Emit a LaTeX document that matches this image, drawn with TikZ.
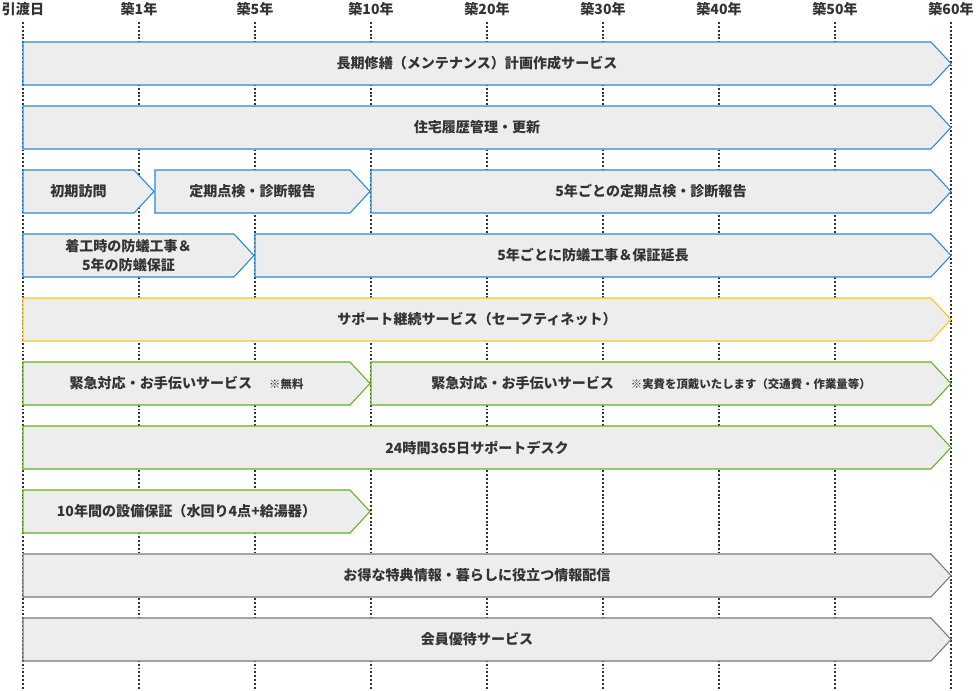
\documentclass[tikz,border=0pt]{standalone}
\usepackage{fontspec}
\setmainfont{Noto Sans CJK JP}
\usepackage{tikz}
\usetikzlibrary{calc}
\usepackage{xcolor}
\definecolor{barblue}{RGB}{36,138,214}
\definecolor{baryellow}{RGB}{250,198,30}
\definecolor{bargreen}{RGB}{98,178,22}
\definecolor{bargray}{RGB}{120,120,120}
\definecolor{barfill}{RGB}{237,237,237}
\definecolor{mytext}{RGB}{51,51,51}
% #1 name, #2 x start, #3 x tip, #4 y top, #5 colour, #6 text
\newcommand{\svcbar}[6]{%
  \draw[svcline,draw=#5] (#2,#4) -- (#3-20,#4) -- (#3,#4+21.5)
    -- (#3-20,#4+43) -- (#2,#4+43) -- cycle;
  \node[svctext] (#1) at ({(#2+#3-20)/2},#4+21.5) {#6};}
\newcommand{\svcnote}[1]{\hspace{1.2em}{\fontsize{6.5}{8}\selectfont #1}}

\begin{document}
\begin{tikzpicture}[x=0.02cm, y=-0.02cm,
    svcline/.style={fill=barfill, line width=0.6pt, line join=miter},
    svctext/.style={font=\fontsize{8}{11}\selectfont\bfseries, text=mytext,
      align=center, inner sep=0pt},
    yrline/.style={mytext, line width=0.6pt, dash pattern=on 1.1pt off 1.1pt},
    yrtext/.style={font=\fontsize{8}{10}\selectfont\bfseries, text=mytext, inner sep=0pt}]
  \useasboundingbox (0,0) rectangle (976,690);
  % time axis
  \foreach \k/\lbl in {0/引渡日, 1/築1年, 2/築5年, 3/築10年, 4/築20年,
                       5/築30年, 6/築40年, 7/築50年, 8/築60年} {
    \node[yrtext] (yr\k) at (23+116*\k,9) {\lbl};
    \draw[yrline] (23+116*\k,22) -- (23+116*\k,690);
  }
  % rows
  \svcbar{plan}{23}{951}{42}{barblue}{長期修繕（メンテナンス）計画作成サービス}
  \svcbar{hist}{23}{951}{106}{barblue}{住宅履歴管理・更新}
  \svcbar{visit}{23}{154}{170}{barblue}{初期訪問}
  \svcbar{check}{155}{370}{170}{barblue}{定期点検・診断報告}
  \svcbar{checkfive}{371}{951}{170}{barblue}{5年ごとの定期点検・診断報告}
  \svcbar{termite}{23}{254}{234}{barblue}{着工時の防蟻工事＆\\5年の防蟻保証}
  \svcbar{termitefive}{255}{951}{234}{barblue}{5年ごとに防蟻工事＆保証延長}
  \svcbar{safety}{23}{951}{298}{baryellow}{サポート継続サービス（セーフティネット）}
  \svcbar{helpfree}{23}{370}{362}{bargreen}{緊急対応・お手伝いサービス\svcnote{※無料}}
  \svcbar{helppaid}{371}{951}{362}{bargreen}{緊急対応・お手伝いサービス\svcnote{※実費を頂戴いたします（交通費・作業量等）}}
  \svcbar{desk}{23}{951}{426}{bargreen}{24時間365日サポートデスク}
  \svcbar{equip}{23}{370}{490}{bargreen}{10年間の設備保証（水回り4点+給湯器）}
  \svcbar{info}{23}{951}{554}{bargray}{お得な特典情報・暮らしに役立つ情報配信}
  \svcbar{member}{23}{951}{618}{bargray}{会員優待サービス}
\end{tikzpicture}
\end{document}
